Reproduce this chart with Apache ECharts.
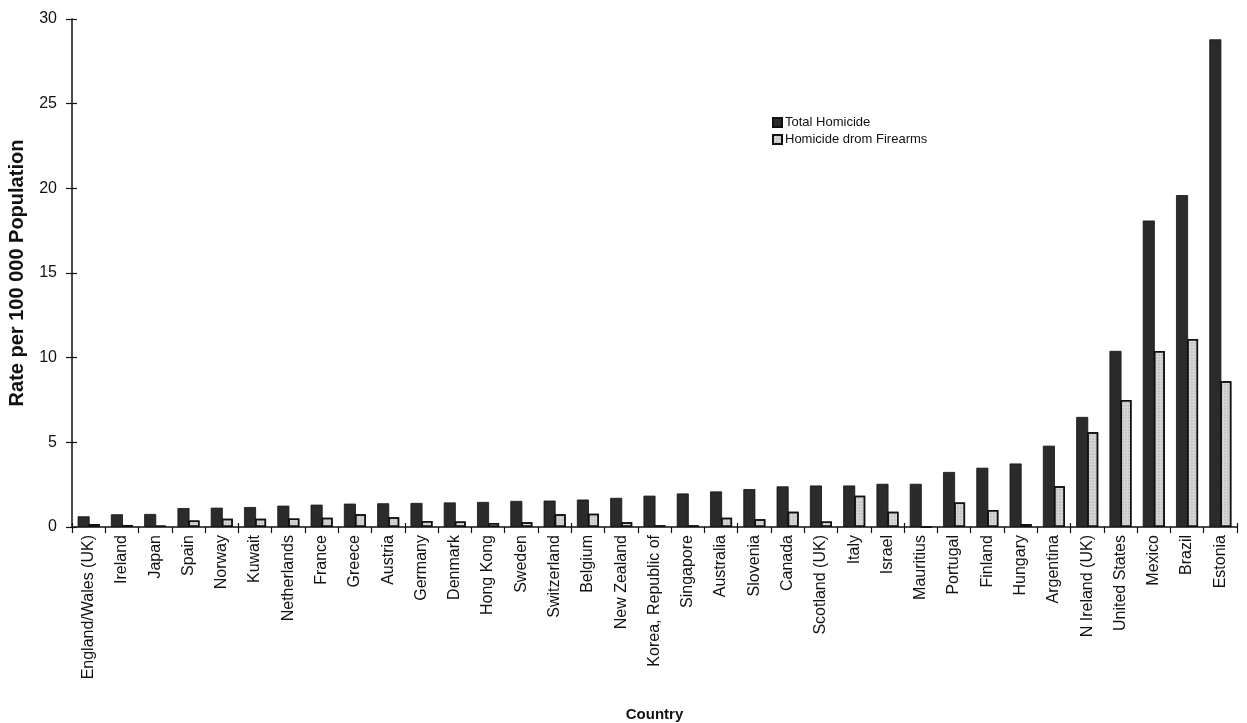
<!DOCTYPE html>
<html>
<head>
<meta charset="utf-8">
<script src="https://cdn.jsdelivr.net/npm/echarts@6/dist/echarts.min.js"></script>
<style>
html,body{margin:0;padding:0;background:#fff;}
#chart{width:1247px;height:723px;}
</style>
</head>
<body>
<div id="chart"></div>
<script>
const countries = ["England/Wales (UK)","Ireland","Japan","Spain","Norway","Kuwait","Netherlands","France","Greece","Austria","Germany","Denmark","Hong Kong","Sweden","Switzerland","Belgium","New Zealand","Korea, Republic of","Singapore","Australia","Slovenia","Canada","Scotland (UK)","Italy","Israel","Mauritius","Portugal","Finland","Hungary","Argentina","N Ireland (UK)","United States","Mexico","Brazil","Estonia"];
const totalHomicide = [0.63,0.75,0.77,1.12,1.14,1.18,1.26,1.32,1.38,1.4,1.42,1.45,1.48,1.54,1.56,1.62,1.72,1.85,1.98,2.1,2.24,2.4,2.45,2.45,2.55,2.55,3.25,3.5,3.75,4.8,6.5,10.4,18.1,19.6,28.8];
const firearmHomicide = [0.18,0.12,0.08,0.38,0.48,0.48,0.5,0.55,0.76,0.58,0.36,0.32,0.24,0.28,0.76,0.78,0.28,0.1,0.1,0.55,0.46,0.9,0.32,1.85,0.9,0,1.45,1.0,0.18,2.4,5.6,7.5,10.4,11.1,8.6];
const yTicks = [0,5,10,15,20,25,30];
const seriesNames = ["Total Homicide","Homicide drom Firearms"];

const FONT = "'Liberation Sans', Arial, Helvetica, sans-serif";
const chart = echarts.init(document.getElementById('chart'), null, {renderer:'canvas'});
chart.setOption({
  animation:false,
  backgroundColor:'#ffffff',
  textStyle:{fontFamily:FONT, color:'#111'},
  legend:{
    orient:'vertical', left:767, top:111, itemWidth:9, itemHeight:9, itemGap:4,
    textStyle:{fontFamily:FONT, fontSize:13, color:'#111', padding:[0,0,0,-2]},
    data:[
      {name:seriesNames[0], icon:'rect'},
      {name:seriesNames[1], icon:'rect'}
    ]
  },
  grid:{left:72, right:10, top:19, bottom:196, containLabel:false, outerBoundsMode:'none'},
  xAxis:[{
    type:'category', data:countries, position:'bottom',
    boundaryGap:true,
    name:'Country', nameLocation:'middle', nameGap:180,
    nameTextStyle:{fontFamily:FONT, fontWeight:'bold', fontSize:15, color:'#111'},
    axisLine:{show:true, lineStyle:{color:'#111', width:1.5}},
    axisTick:{show:true, alignWithLabel:false, length:6, lineStyle:{color:'#111', width:1.2}},
    axisLabel:{rotate:90, interval:0, margin:8, fontFamily:FONT, fontSize:16, color:'#111'},
    splitLine:{show:false}
  },{
    type:'category', data:countries, position:'bottom', boundaryGap:true,
    axisLine:{show:false},
    axisTick:{show:true, inside:true, length:4, lineStyle:{color:'#111', width:1.2}},
    axisLabel:{show:false}, splitLine:{show:false}
  }],
  yAxis:[{
    type:'value', min:0, max:30, interval:5,
    name:'Rate per 100 000 Population', nameLocation:'middle', nameGap:45,
    nameTextStyle:{fontFamily:FONT, fontWeight:'bold', fontSize:20, color:'#111'},
    axisLine:{show:true, lineStyle:{color:'#111', width:1.5}},
    axisTick:{show:true, length:6, lineStyle:{color:'#111', width:1.2}},
    axisLabel:{fontFamily:FONT, fontSize:16, color:'#111', margin:15,
      formatter: v => yTicks.includes(v) ? String(v) : ''},
    splitLine:{show:false}
  },{
    type:'value', min:0, max:30, interval:5, position:'left',
    axisLine:{show:false},
    axisTick:{show:true, inside:true, length:5, lineStyle:{color:'#111', width:1.2}},
    axisLabel:{show:false}, splitLine:{show:false}
  }],
  series:[{
    name:seriesNames[0], type:'bar', data:totalHomicide,
    barWidth:12, barGap:'-8%', barCategoryGap:'30%',
    itemStyle:{color:'#2b2b2b', borderColor:'#111', borderWidth:0.8}
  },{
    name:seriesNames[1], type:'bar', data:firearmHomicide,
    barWidth:11,
    itemStyle:{color:'#d6d6d6', borderColor:'#111', borderWidth:1.5,
      decal:{symbol:'rect', symbolSize:0.5, dashArrayX:[2,1], dashArrayY:[2,1], color:'rgba(0,0,0,0.28)'}}
  }]
});
</script>
</body>
</html>
